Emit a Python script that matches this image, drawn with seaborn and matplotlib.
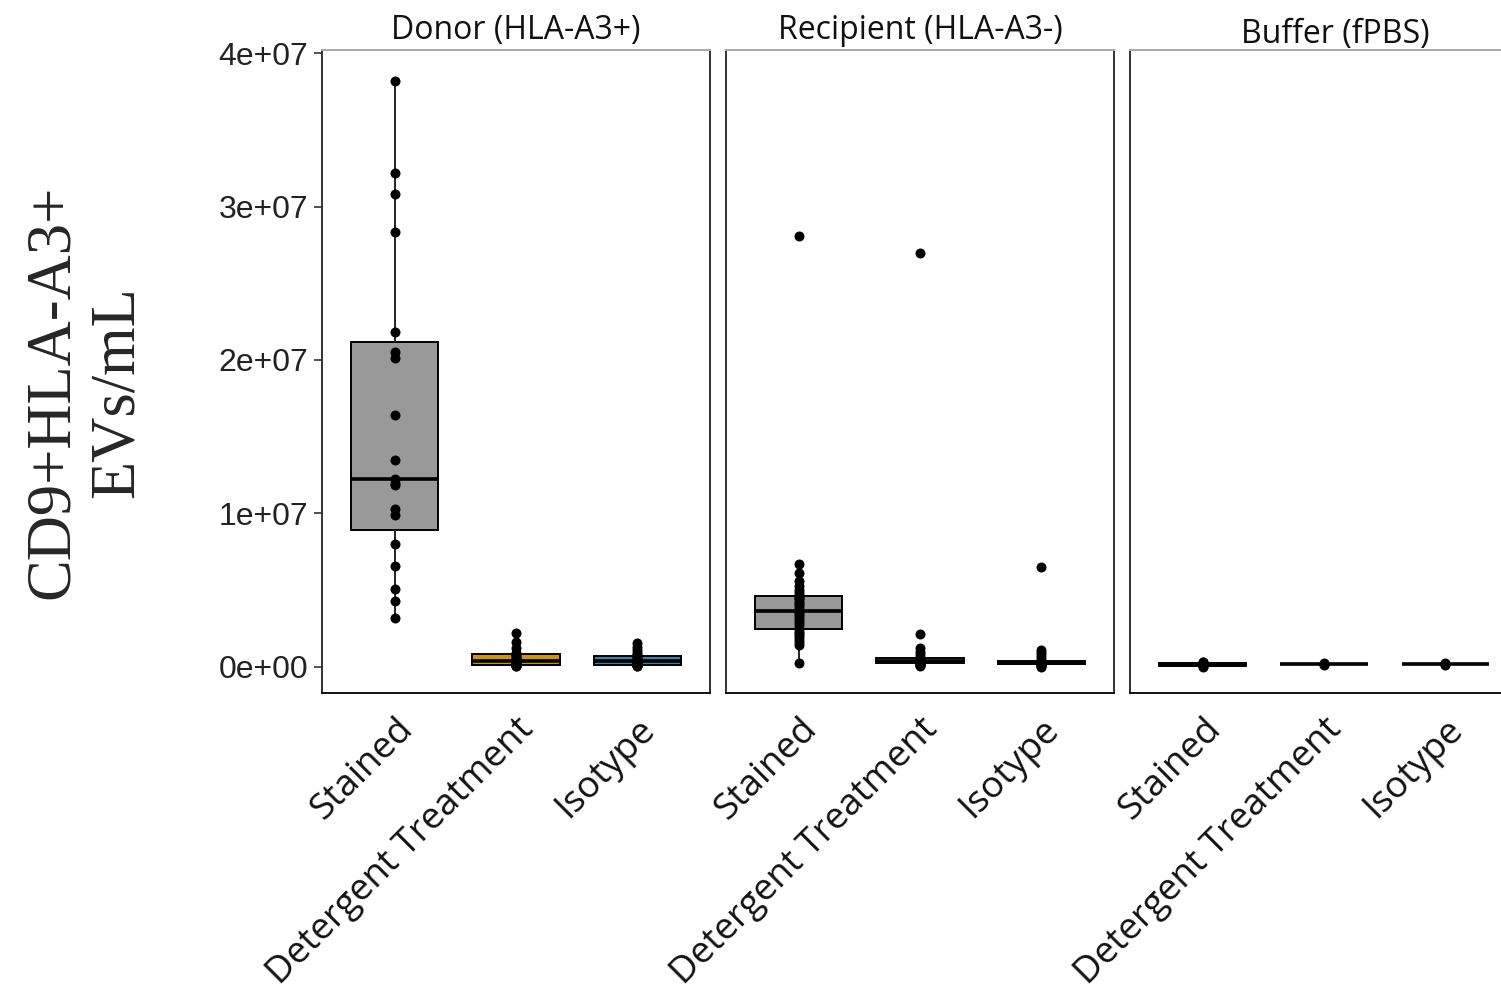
import matplotlib
matplotlib.use("Agg")
import matplotlib.pyplot as plt
import seaborn as sns
import pandas as pd

# ---- data (EVs/mL) ----
panels = ["Donor (HLA-A3+)", "Recipient (HLA-A3-)", "Buffer (fPBS)"]
conditions = ["Stained", "Detergent Treatment", "Isotype"]
box_colors = ["#999999", "#E69F00", "#3D7FAE"]

donor_stained = [3.2e6, 4.3e6, 5.08e6, 6.55e6, 8.0e6, 9.87e6, 10.27e6, 11.86e6, 12.0e6,
                 12.26e6, 13.46e6, 16.4e6, 20.1e6, 20.5e6, 21.8e6, 28.35e6, 30.8e6,
                 32.2e6, 38.2e6]
donor_detergent = [0.05e6, 0.08e6, 0.1e6, 0.12e6, 0.13e6, 0.15e6, 0.2e6, 0.25e6, 0.3e6,
                   0.35e6, 0.4e6, 0.5e6, 0.6e6, 0.7e6, 0.8e6, 0.85e6, 0.9e6, 1.2e6,
                   1.6e6, 2.2e6]
donor_isotype = [0.03e6, 0.06e6, 0.1e6, 0.12e6, 0.13e6, 0.15e6, 0.2e6, 0.25e6, 0.3e6,
                 0.35e6, 0.4e6, 0.45e6, 0.5e6, 0.6e6, 0.7e6, 0.75e6, 0.9e6, 1.1e6,
                 1.3e6, 1.55e6]

recipient_stained = [0.24e6, 1.4e6, 1.6e6, 1.8e6, 2.0e6, 2.15e6, 2.3e6, 2.45e6, 2.7e6,
                     2.9e6, 3.1e6, 3.3e6, 3.45e6, 3.55e6, 3.65e6, 3.8e6, 3.95e6, 4.1e6,
                     4.25e6, 4.4e6, 4.5e6, 4.6e6, 4.8e6, 5.0e6, 5.3e6, 5.6e6, 6.1e6,
                     6.7e6, 28.1e6]
recipient_detergent = [0.05e6, 0.1e6, 0.15e6, 0.2e6, 0.24e6, 0.26e6, 0.28e6, 0.3e6,
                       0.32e6, 0.34e6, 0.36e6, 0.38e6, 0.4e6, 0.42e6, 0.45e6, 0.6e6,
                       0.8e6, 1.0e6, 1.25e6, 2.15e6, 27.0e6]
recipient_isotype = [0.02e6, 0.06e6, 0.1e6, 0.15e6, 0.2e6, 0.22e6, 0.23e6, 0.24e6,
                     0.25e6, 0.26e6, 0.27e6, 0.28e6, 0.29e6, 0.3e6, 0.35e6, 0.5e6,
                     0.7e6, 0.9e6, 1.1e6, 6.5e6]

buffer_stained = [0.0, 0.05e6, 0.1e6, 0.15e6, 0.3e6, 0.35e6]
buffer_detergent = [0.15e6, 0.18e6, 0.2e6, 0.22e6, 0.25e6]
buffer_isotype = [0.15e6, 0.18e6, 0.2e6, 0.22e6, 0.25e6]

values = {
    panels[0]: [donor_stained, donor_detergent, donor_isotype],
    panels[1]: [recipient_stained, recipient_detergent, recipient_isotype],
    panels[2]: [buffer_stained, buffer_detergent, buffer_isotype],
}

y_ticks = [0, 1e7, 2e7, 3e7, 4e7]
y_tick_labels = ["0e+00", "1e+07", "2e+07", "3e+07", "4e+07"]

rows = []
for p in panels:
    for c, vals in zip(conditions, values[p]):
        for v in vals:
            rows.append({"panel": p, "condition": c, "value": v})
df = pd.DataFrame(rows)

# ---- figure ----
sns.set_theme(style="white")
W, H = 1501, 989
fig = plt.figure(figsize=(W / 100, H / 100), dpi=100)

label_font = "Open Sans"
tick_font = "Liberation Sans"

panel_left = [322, 726, 1130]
panel_w = 388
top_px, bot_px = 50, 693
# strip title placement (axes fraction x, pixel gap above panel)
title_x = [0.5, 0.5, 0.528]
title_pad = [8, 8, 5]

for i, p in enumerate(panels):
    ax = fig.add_axes([panel_left[i] / W, 1 - bot_px / H, panel_w / W, (bot_px - top_px) / H])
    sub = df[df["panel"] == p]
    sns.boxplot(data=sub, x="condition", y="value", order=conditions,
                hue="condition", hue_order=conditions, palette=box_colors,
                legend=False, width=0.72, showfliers=False, ax=ax,
                linewidth=1.4, linecolor="black",
                medianprops={"linewidth": 2.6, "color": "black"},
                whiskerprops={"linewidth": 1.4, "color": "#222222"},
                capprops={"linewidth": 0})
    sns.stripplot(data=sub, x="condition", y="value", order=conditions,
                  color="black", jitter=False, size=7.2, ax=ax, zorder=5)
    ax.set_xlim(-0.6, 2.6)
    ax.set_ylim(-1.7e6, 40.2e6)
    ax.set_xlabel("")
    ax.set_ylabel("")
    ax.set_xticks(range(3))
    ax.set_xticklabels(conditions, rotation=45, ha="right", rotation_mode="anchor",
                       fontfamily=label_font, fontsize=26.5, color="#111111")
    ax.tick_params(axis="x", length=6, width=1.2, color="#333333", pad=7)
    if i == 0:
        ax.set_yticks(y_ticks)
        ax.set_yticklabels(y_tick_labels, fontfamily=tick_font, fontsize=23, color="#222222")
        ax.tick_params(axis="y", length=6, width=1.2, color="#333333", pad=4, left=True)
    else:
        ax.set_yticks([])
    for side in ["left", "right", "bottom"]:
        ax.spines[side].set_visible(True)
        ax.spines[side].set_color("#333333")
        ax.spines[side].set_linewidth(1.4)
    ax.spines["top"].set_visible(True)
    ax.spines["top"].set_color("#aaaaaa")
    ax.spines["top"].set_linewidth(1.4)
    ax.spines["bottom"].set_color("#111111")
    ax.grid(False)
    ax.set_facecolor("white")
    ax.set_title(p, fontfamily=label_font, fontsize=23, color="#111111",
                 pad=title_pad[i], x=title_x[i])

fig.text(85 / W, 1 - 392 / H, "CD9+HLA-A3+\nEVs/mL", rotation=90, ha="center",
         va="center", fontfamily="Liberation Serif", fontsize=45, linespacing=1.15,
         multialignment="center")

fig.savefig("out.png", dpi=100, facecolor="white")
